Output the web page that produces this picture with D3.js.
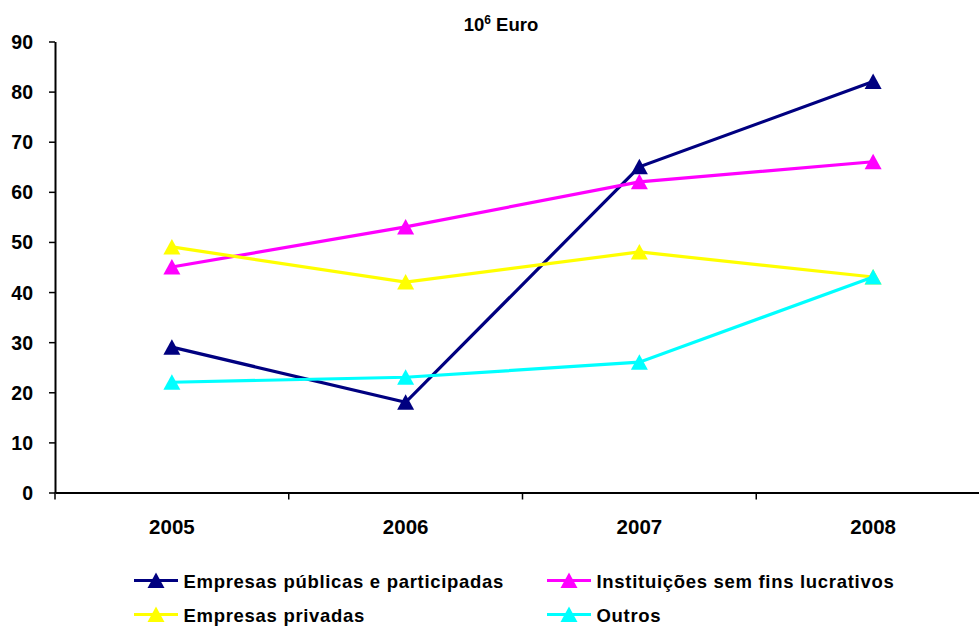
<!DOCTYPE html>
<html><head><meta charset="utf-8">
<script src="https://cdn.jsdelivr.net/npm/d3@7"></script>
<style>
body{margin:0;background:#fff;}
svg{display:block;font-family:"Liberation Sans",Arial,sans-serif;}
</style></head>
<body>
<svg id="chart" width="979" height="626"></svg>
<script>
const years = ["2005","2006","2007","2008"];
const seriesNames = ["Empresas públicas e participadas","Instituições sem fins lucrativos","Empresas privadas","Outros"];
const seriesColors = ["#000080","#FF00FF","#FFFF00","#00FFFF"];
const empresasPublicas = [29,18,65,82];
const instituicoes = [45,53,62,66];
const empresasPrivadas = [49,42,48,43];
const outros = [22,23,26,43];
const yTicks = [0,10,20,30,40,50,60,70,80,90];

const seriesValues = [empresasPublicas, instituicoes, empresasPrivadas, outros];
const svg = d3.select("#chart");
const plotLeft = 55, plotRight = 990, plotTop = 41.5, plotBottom = 492.5;

const x = d3.scaleBand().domain(years).range([plotLeft, plotRight]).padding(0);
const y = d3.scaleLinear().domain([0,90]).range([plotBottom, plotTop]);

// title
const title = svg.append("text").attr("x", 501).attr("y", 31).attr("text-anchor","middle")
  .attr("font-weight","bold").attr("font-size",18.5);
title.append("tspan").text("10");
title.append("tspan").attr("dy",-7).attr("font-size",12).text("6");
title.append("tspan").attr("dy",7).text(" Euro");

// y axis
const yAxis = svg.append("g").attr("transform",`translate(${plotLeft},0)`)
  .call(d3.axisLeft(y).tickValues(yTicks).tickSize(6).tickSizeOuter(0).tickPadding(16));
yAxis.select(".domain").attr("stroke","#000").attr("stroke-width",2);
yAxis.selectAll(".tick line").attr("stroke","#000").attr("stroke-width",1.5);
yAxis.selectAll(".tick text").attr("font-size",19.5).attr("font-weight","bold").attr("fill","#000")
  .attr("font-family","Liberation Sans, Arial, sans-serif").attr("dy","0.36em");

// x axis
const xAxis = svg.append("g").attr("transform",`translate(0,${plotBottom})`)
  .call(d3.axisBottom(x).tickSize(0).tickPadding(27));
xAxis.select(".domain").attr("stroke","#000").attr("stroke-width",2);
xAxis.selectAll(".tick text").attr("font-size",20.5).attr("font-weight","bold").attr("fill","#000")
  .attr("font-family","Liberation Sans, Arial, sans-serif");
// category boundary ticks
const boundaries = years.map(d => x(d));
xAxis.selectAll(".bound").data(boundaries).join("line").attr("class","bound")
  .attr("x1",d=>d).attr("x2",d=>d).attr("y1",0).attr("y2",7)
  .attr("stroke","#000").attr("stroke-width",1.5);

const tri = "M0,-8L8.5,7.5L-8.5,7.5Z";
const line = d3.line().x((d,i)=>x(years[i])+x.bandwidth()/2).y(d=>y(d));

seriesValues.forEach((vals, si) => {
  const g = svg.append("g");
  g.append("path").attr("d", line(vals)).attr("fill","none")
    .attr("stroke", seriesColors[si]).attr("stroke-width", 3.2);
  g.selectAll("path.m").data(vals).join("path").attr("class","m")
    .attr("d", tri)
    .attr("transform",(d,i)=>`translate(${x(years[i])+x.bandwidth()/2},${y(d)})`)
    .attr("fill", seriesColors[si]);
});

// legend
const legendPos = [[134,580.5],[547,580.5],[134,614.5],[547,614.5]];
seriesNames.forEach((name, si) => {
  const [lx, ly] = legendPos[si];
  const g = svg.append("g").attr("transform",`translate(${lx},${ly})`);
  g.append("line").attr("x1",0).attr("x2",44).attr("y1",0).attr("y2",0)
    .attr("stroke",seriesColors[si]).attr("stroke-width",3.2);
  g.append("path").attr("d",tri).attr("transform","translate(22,0)").attr("fill",seriesColors[si]);
  g.append("text").attr("x",49.5).attr("y",7.5)
    .attr("font-size",18.5).attr("letter-spacing",0.7).attr("font-weight","bold").attr("fill","#000").text(name);
});
</script>
</body></html>
